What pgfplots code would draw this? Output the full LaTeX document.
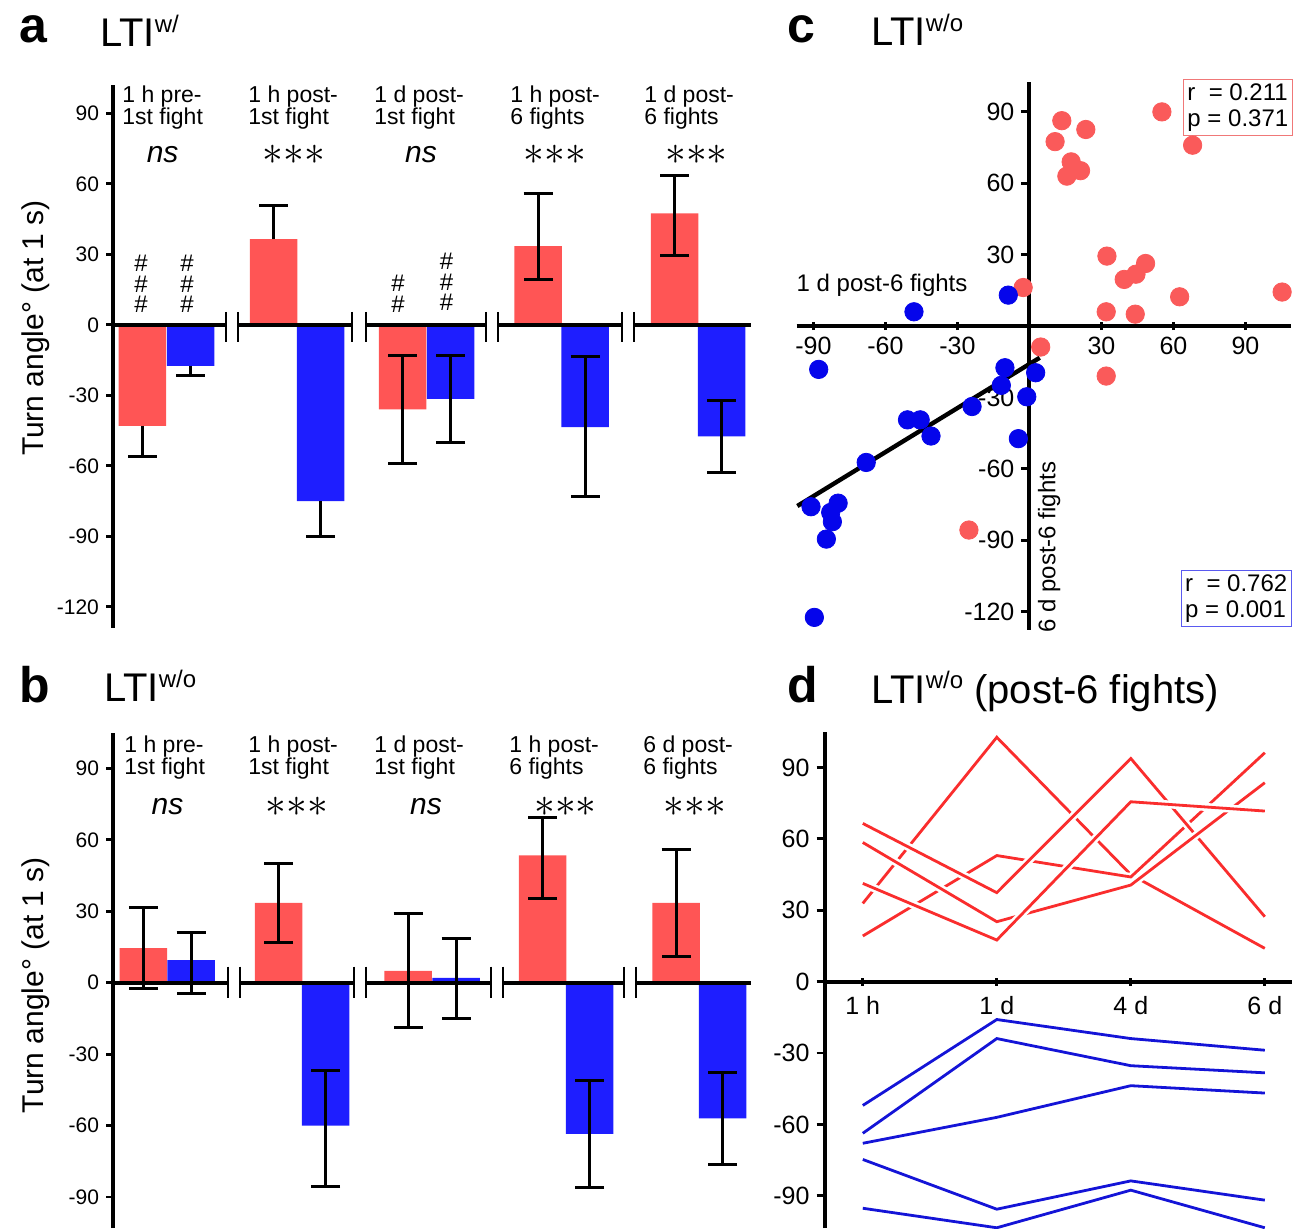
\documentclass[border=0pt]{standalone}
\usepackage{fontspec}
\setmainfont{Liberation Sans}
\usepackage{pgfplots}
\pgfplotsset{compat=1.18}

\definecolor{barred}{RGB}{255,85,85}
\definecolor{barblue}{RGB}{30,30,255}
\definecolor{dotred}{RGB}{250,90,90}
\definecolor{dotblue}{RGB}{5,5,235}
\definecolor{linered}{RGB}{250,45,45}
\definecolor{lineblue}{RGB}{20,20,215}
\definecolor{boxred}{RGB}{240,120,120}
\definecolor{boxblue}{RGB}{90,90,240}

\newcommand{\LTI}[1]{LTI\raisebox{7pt}{\fontsize{12}{12}\selectfont #1}}
\newcommand{\catfont}{\fontsize{11.5}{11}\selectfont}
\newcommand{\stars}{${\ast}{\ast}{\ast}$}

\pgfplotsset{
  barax/.style={anchor=south west, scale only axis, width=319.5pt,
    xmin=113, xmax=752, axis x line=none, axis y line=left,
    axis line style={line width=1.8pt,-}, tick style={line width=1.4pt,black},
    major tick length=3.5pt, tick align=outside, xtick=\empty, clip=false,
    yticklabel style={font=\fontsize{10.5}{12}\selectfont}},
  redbar/.style={ybar, bar width=47.5, bar shift=0pt, fill=barred, draw=none},
  bluebar/.style={ybar, bar width=47.5, bar shift=0pt, fill=barblue, draw=none},
  errs/.style={draw=none, mark=none, forget plot,
    error bars/.cd, y dir=#1, y explicit,
    error bar style={draw=black, line width=1.5pt},
    error mark options={rotate=90, mark size=7.25pt, line width=1.5pt, draw=black}},
}
\tikzset{
  ns/.style={inner sep=0pt, font=\fontsize{15}{15}\selectfont\itshape},
  st/.style={inner sep=0pt, font=\fontsize{20}{20}\selectfont},
  hs/.style={align=center, inner sep=0pt, font=\fontsize{12}{10.3}\selectfont},
}

\begin{document}
\begin{tikzpicture}
\useasboundingbox (0,0) rectangle (650.5pt,614pt);

% ---------------- panel a
\node[anchor=base west, font=\fontsize{25}{25}\selectfont\bfseries] at (6pt,592.5pt) {a};
\node[anchor=base west, font=\fontsize{20}{20}\selectfont] at (46.5pt,590.7pt) {\LTI{w/}};
\node[rotate=90, font=\fontsize{15}{15}\selectfont] at (17.75pt,450pt) {Turn angle° (at 1 s)};
\begin{axis}[barax, at={(56.5pt,300pt)}, height=271.4pt, ymin=-129, ymax=102,
  ytick={-120,-90,-60,-30,0,30,60,90}, yticklabels={-120,-90,-60,-30,0,30,60,90}]
  \addplot[redbar] coordinates {(142.3,-43) (273.5,36.5) (402.5,-36) (538,33.5) (674.5,47.5)};
  \addplot[bluebar] coordinates {(190.5,-17.5) (320.5,-75) (450.5,-31.5) (585,-43.5) (721.5,-47.5)};
  \addplot[errs=minus] coordinates {(142.3,-43) -= (0,13) (190.5,-17.5) -= (0,4) (320.5,-75) -= (0,15)};
  \addplot[errs=plus] coordinates {(273.5,36.5) += (0,14.5)};
  \addplot[errs=both] coordinates {(402.5,-36) += (0,23) -= (0,23) (450.5,-31.5) += (0,18.5) -= (0,18.5)
    (538,33.5) += (0,22.5) -= (0,14) (585,-43.5) += (0,30) -= (0,29.5)
    (674.5,47.5) += (0,16) -= (0,18) (721.5,-47.5) += (0,15.5) -= (0,15.5)};
  \draw[line width=2pt] (axis cs:113,0) -- (axis cs:226,0);
  \draw[line width=2pt] (axis cs:238,0) -- (axis cs:352,0);
  \draw[line width=2pt] (axis cs:366,0) -- (axis cs:486,0);
  \draw[line width=2pt] (axis cs:498,0) -- (axis cs:622,0);
  \draw[line width=2pt] (axis cs:634,0) -- (axis cs:751,0);
  \pgfplotsinvokeforeach{226,238,352,366,486,498,622,634}{
    \draw[line width=1.4pt] (axis cs:#1,5.5) -- (axis cs:#1,-7.3);}
  \node[anchor=north west, align=left, inner sep=0pt, font=\catfont] at (axis cs:122,102.1) {1 h pre-\\1st fight};
  \node[anchor=north west, align=left, inner sep=0pt, font=\catfont] at (axis cs:248,102.1) {1 h post-\\1st fight};
  \node[anchor=north west, align=left, inner sep=0pt, font=\catfont] at (axis cs:374,102.1) {1 d post-\\1st fight};
  \node[anchor=north west, align=left, inner sep=0pt, font=\catfont] at (axis cs:510,102.1) {1 h post-\\6 fights};
  \node[anchor=north west, align=left, inner sep=0pt, font=\catfont] at (axis cs:644,102.1) {1 d post-\\6 fights};
  \node[ns] at (axis cs:162.6,72.3) {ns};
  \node[st] at (axis cs:293.7,72.3) {\stars};
  \node[ns] at (axis cs:421,72.3) {ns};
  \node[st] at (axis cs:555,72.3) {\stars};
  \node[st] at (axis cs:696.6,72.3) {\stars};
  \node[hs] at (axis cs:141,17.4) {\#\\\#\\\#};
  \node[hs] at (axis cs:187,17.4) {\#\\\#\\\#};
  \node[hs] at (axis cs:398,13.2) {\#\\\#};
  \node[hs] at (axis cs:446.5,18.3) {\#\\\#\\\#};
\end{axis}

% ---------------- panel b
\node[anchor=base west, font=\fontsize{25}{25}\selectfont\bfseries] at (6pt,263pt) {b};
\node[anchor=base west, font=\fontsize{20}{20}\selectfont] at (48.5pt,263.2pt) {\LTI{w/o}};
\node[rotate=90, font=\fontsize{15}{15}\selectfont] at (17.75pt,121.5pt) {Turn angle° (at 1 s)};
\begin{axis}[barax, at={(56.5pt,0pt)}, height=247.7pt, ymin=-103, ymax=105,
  ytick={-90,-60,-30,0,30,60,90}, yticklabels={-90,-60,-30,0,30,60,90}]
  \addplot[redbar] coordinates {(143.3,14.5) (278.5,33.5) (408,5) (542.5,53.5) (676,33.5)};
  \addplot[bluebar] coordinates {(191,9.5) (325.5,-60) (456,2) (589.5,-63.5) (722.5,-57)};
  \addplot[errs=both] coordinates {(143.3,14.5) += (0,17) -= (0,17) (191,9.5) += (0,11.5) -= (0,14)
    (278.5,33.5) += (0,16.7) -= (0,16.7) (325.5,-60) += (0,23) -= (0,25.5)
    (408,5) += (0,24) -= (0,24) (456,2) += (0,16.5) -= (0,17)
    (542.5,53.5) += (0,15.7) -= (0,18) (589.5,-63.5) += (0,22.5) -= (0,22.5)
    (676,33.5) += (0,22.5) -= (0,22.5) (722.5,-57) += (0,19.5) -= (0,19.5)};
  \draw[line width=2pt] (axis cs:113,0) -- (axis cs:228,0);
  \draw[line width=2pt] (axis cs:240,0) -- (axis cs:354,0);
  \draw[line width=2pt] (axis cs:366,0) -- (axis cs:491,0);
  \draw[line width=2pt] (axis cs:503,0) -- (axis cs:624,0);
  \draw[line width=2pt] (axis cs:636,0) -- (axis cs:751,0);
  \pgfplotsinvokeforeach{228,240,354,366,491,503,624,636}{
    \draw[line width=1.4pt] (axis cs:#1,6.7) -- (axis cs:#1,-6.5);}
  \node[anchor=north west, align=left, inner sep=0pt, font=\catfont] at (axis cs:124,104) {1 h pre-\\1st fight};
  \node[anchor=north west, align=left, inner sep=0pt, font=\catfont] at (axis cs:248,104) {1 h post-\\1st fight};
  \node[anchor=north west, align=left, inner sep=0pt, font=\catfont] at (axis cs:374,104) {1 d post-\\1st fight};
  \node[anchor=north west, align=left, inner sep=0pt, font=\catfont] at (axis cs:509,104) {1 h post-\\6 fights};
  \node[anchor=north west, align=left, inner sep=0pt, font=\catfont] at (axis cs:643,104) {6 d post-\\6 fights};
  \node[ns] at (axis cs:167.5,73.8) {ns};
  \node[st] at (axis cs:297,73.8) {\stars};
  \node[ns] at (axis cs:426,73.8) {ns};
  \node[st] at (axis cs:565.5,73.8) {\stars};
  \node[st] at (axis cs:695,73.8) {\stars};
\end{axis}

% ---------------- panel c
\node[anchor=base west, font=\fontsize{25}{25}\selectfont\bfseries] at (390pt,592.5pt) {c};
\node[anchor=base west, font=\fontsize{20}{20}\selectfont] at (432pt,591pt) {\LTI{w/o}};
\begin{axis}[anchor=south west, at={(398.3pt,299pt)}, scale only axis,
  width=247.2pt, height=274.05pt, xmin=-97, xmax=109, ymin=-127.7, ymax=102.6,
  axis lines=middle, axis line style={line width=2pt,-},
  tick style={line width=1.4pt,black}, major tick length=4pt,
  xtick align=center, ytick align=outside,
  xtick={-90,-60,-30,30,60,90}, xticklabels={-90,-60,-30,30,60,90},
  ytick={-120,-90,-60,-30,30,60,90}, yticklabels={-120,-90,-60,-30,30,60,90},
  tick label style={font=\fontsize{12.5}{13}\selectfont}, clip=false]
  \addplot[only marks, mark=*, mark size=4.6pt, mark options={fill=dotred, draw=dotred}] coordinates {
    (13.5,86.3) (23.5,82.6) (10.7,77.5) (17.4,69) (15.6,63) (21.3,65.3) (55.2,90) (68,76)
    (32.3,29.4) (48.4,26.3) (44.4,21.8) (39.5,19.6) (62.6,12.3) (105.3,14.3) (-2.6,16.2)
    (32,6) (44.1,5) (4.7,-8.8) (32,-21) (-25.2,-85.7)};
  \addplot[only marks, mark=*, mark size=4.6pt, mark options={fill=dotblue, draw=dotblue}] coordinates {
    (-8.8,13) (-48.1,6) (-87.8,-18.2) (-10.2,-17.5) (2.6,-19.6) (-11.7,-24.9) (-1.1,-29.7)
    (-23.9,-33.8) (-50.8,-39.4) (-45.5,-39.4) (-41,-46.2) (-4.6,-47.3) (-68,-57.3)
    (-91,-75.9) (-79.7,-74.4) (-82.8,-78.3) (-82.1,-82.2) (-84.6,-89.5) (-89.6,-122.4)};
  \addplot[black, line width=2.2pt] coordinates {(-96.7,-75.6) (4.3,-13.3)};
  \node[font=\fontsize{12}{12}\selectfont] at (axis cs:-61.4,17.2) {1 d post-6 fights};
  \node[rotate=90, font=\fontsize{12}{12}\selectfont] at (axis cs:8.2,-92.9) {6 d post-6 fights};
  \node[draw=boxred, line width=0.7pt, anchor=north east, align=left, inner sep=2pt,
    font=\fontsize{12}{13}\selectfont] at (axis cs:109.8,103.8) {r\ \ = 0.211\\p = 0.371};
  \node[draw=boxblue, line width=0.7pt, anchor=south east, align=left, inner sep=2pt,
    font=\fontsize{12}{13}\selectfont] at (axis cs:109.4,-126.5) {r\ \ = 0.762\\p = 0.001};
\end{axis}

% ---------------- panel d
\node[anchor=base west, font=\fontsize{25}{25}\selectfont\bfseries] at (390pt,263pt) {d};
\node[anchor=base west, font=\fontsize{20}{20}\selectfont] at (432pt,262.5pt) {\LTI{w/o} (post-6 fights)};
\begin{axis}[anchor=south west, at={(412.3pt,0pt)}, scale only axis,
  width=233.7pt, height=248.1pt, xmin=-0.285, xmax=3.203, ymin=-103.5, ymax=105,
  axis x line=middle, axis y line=left, axis line style={line width=2pt,-},
  hide obscured y ticks=false,
  tick style={line width=1.4pt,black}, major tick length=4pt,
  xtick align=center, ytick align=outside,
  xtick={0,1,2,3}, xticklabels={1 h,1 d,4 d,6 d},
  xticklabel style={yshift=-2pt},
  ytick={-90,-60,-30,0,30,60,90}, yticklabels={-90,-60,-30,0,30,60,90},
  tick label style={font=\fontsize{12.5}{13}\selectfont}, clip=false]
  \addplot[linered, line width=1.4pt, preaction={draw=white, line width=4pt}] coordinates {(0,32.9) (1,102.7) (2,45) (3,14)};
  \addplot[linered, line width=1.4pt, preaction={draw=white, line width=4pt}] coordinates {(0,19.2) (1,53) (2,44) (3,96.2)};
  \addplot[linered, line width=1.4pt, preaction={draw=white, line width=4pt}] coordinates {(0,66.5) (1,37.4) (2,93.8) (3,27.3)};
  \addplot[linered, line width=1.4pt, preaction={draw=white, line width=4pt}] coordinates {(0,58.5) (1,25.2) (2,40.6) (3,83.6)};
  \addplot[linered, line width=1.4pt, preaction={draw=white, line width=4pt}] coordinates {(0,41.3) (1,17.5) (2,75.6) (3,71.7)};
  \addplot[lineblue, line width=1.4pt] coordinates {(0,-52) (1,-15.9) (2,-23.9) (3,-28.8)};
  \addplot[lineblue, line width=1.4pt] coordinates {(0,-63.7) (1,-23.9) (2,-35.3) (3,-38.3)};
  \addplot[lineblue, line width=1.4pt] coordinates {(0,-67.9) (1,-57) (2,-43.7) (3,-46.8)};
  \addplot[lineblue, line width=1.4pt] coordinates {(0,-74.7) (1,-95.6) (2,-83.7) (3,-91.8)};
  \addplot[lineblue, line width=1.4pt] coordinates {(0,-95.2) (1,-103.4) (2,-87.6) (3,-103.4)};
\end{axis}
\end{tikzpicture}
\end{document}
